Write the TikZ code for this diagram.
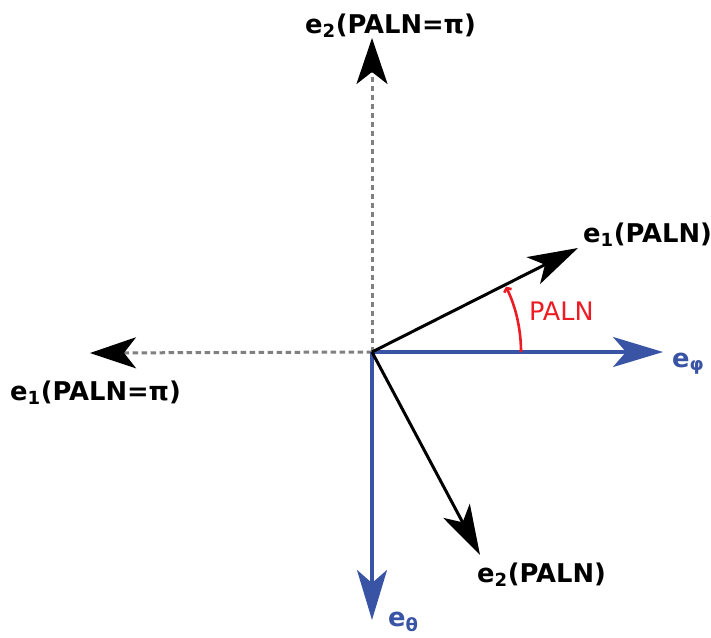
\documentclass[tikz,border=0pt]{standalone}
\usepackage{fontspec}
\setmainfont{DejaVu Sans}
\usetikzlibrary{arrows.meta}
\definecolor{vblue}{RGB}{58,84,165}
\definecolor{vred}{RGB}{237,28,36}
\definecolor{vgray}{RGB}{128,128,128}
\tikzset{
  head/.style={-{Stealth[length=50pt,width=30pt,inset=13pt]}},
  blackvec/.style={head,draw=black,line width=3pt},
  bluevec/.style={head,draw=vblue,line width=3.2pt},
  dashvec/.style={draw=vgray,line width=3pt,dash pattern=on 5.5pt off 3.5pt,
     -{Stealth[length=46pt,width=31pt,inset=12pt,color=black,fill=black]}},
  lbl/.style={inner sep=0pt,anchor=base west,font=\fontsize{25.8}{28}\selectfont\bfseries},
  anglelbl/.style={inner sep=0pt,anchor=base west,font=\fontsize{25.5}{28}\selectfont,text=vred},
}
\begin{document}
\begin{tikzpicture}[x=1pt,y=-1pt]
\useasboundingbox (0,0) rectangle (711,637);
\coordinate (O) at (372,352);
\coordinate (up) at (372,38);
\coordinate (left) at (90,353);
\coordinate (e1) at (578,248);
\coordinate (e2) at (480,555);
\coordinate (ephi) at (663,352);
\coordinate (eth) at (372,620);
\draw[dashvec] (O) -- (up);
\draw[dashvec] (O) -- (left);
\draw[bluevec] (O) -- (ephi);
\draw[bluevec] (O) -- (eth);
\draw[blackvec] (O) -- (e1);
\draw[blackvec] (O) -- (e2);
\draw[vred,line width=2.6pt,-{Straight Barb[length=3pt,width=8pt]}]
  ([shift={(0:149)}]O) arc[start angle=0,end angle=-26,radius=149];
\node[lbl] (l1) at (305,33) {e\textsubscript{2}(PALN=π)};
\node[lbl] (l2) at (10,400) {e\textsubscript{1}(PALN=π)};
\node[lbl] (l3) at (583,242) {e\textsubscript{1}(PALN)};
\node[lbl] (l4) at (477,582) {e\textsubscript{2}(PALN)};
\node[lbl,text=vblue] (l5) at (672,367) {e\textsubscript{φ}};
\node[lbl,text=vblue] (l6) at (388,626) {e\textsubscript{θ}};
\node[anglelbl] (l7) at (529,320) {PALN};
\end{tikzpicture}
\end{document}
